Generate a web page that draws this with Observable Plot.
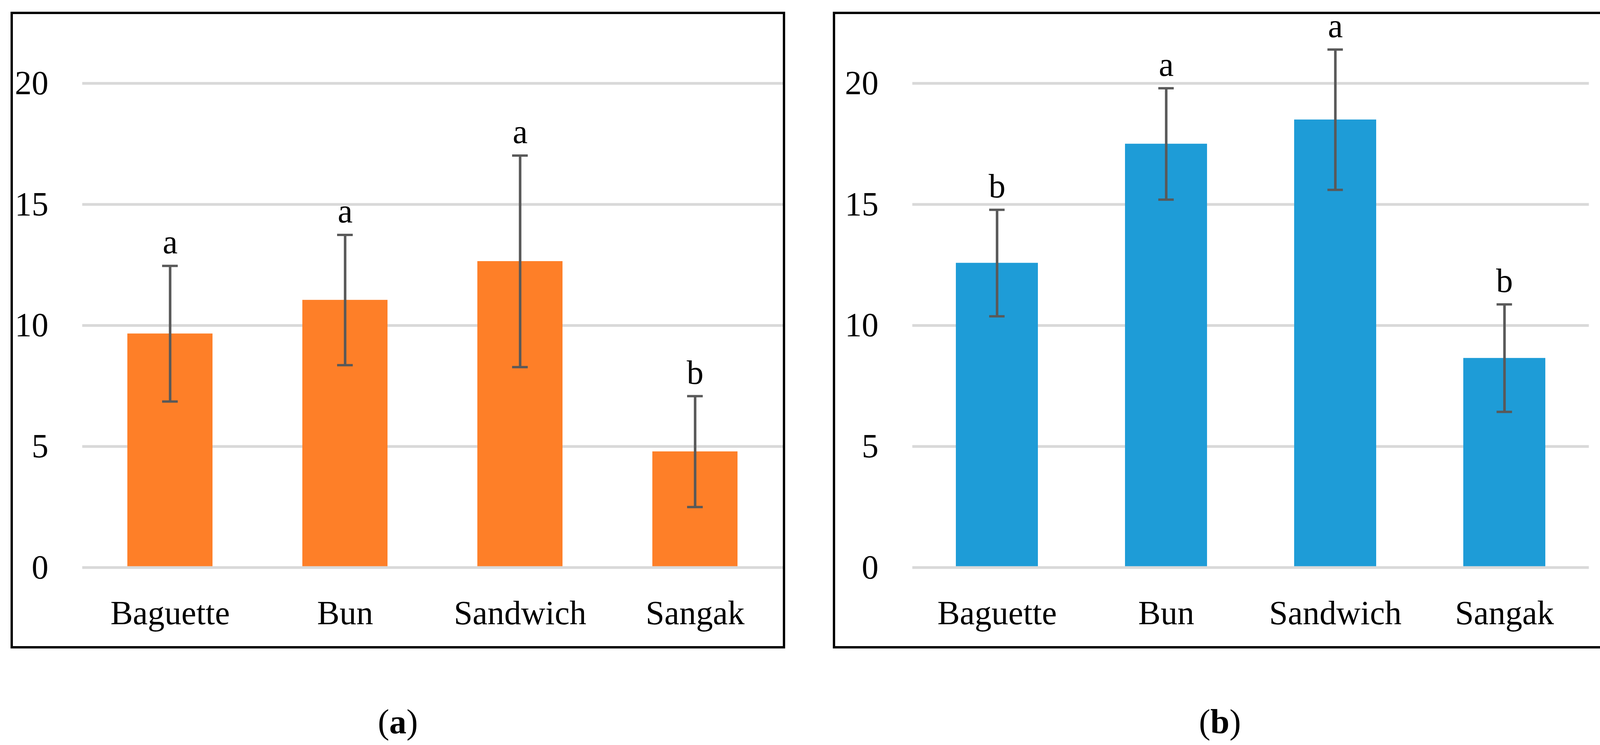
<!DOCTYPE html>
<html>
<head>
<meta charset="utf-8">
<script src="https://cdn.jsdelivr.net/npm/d3@7"></script>
<script src="https://cdn.jsdelivr.net/npm/@observablehq/plot@0.6"></script>
<style>
  html, body { margin: 0; padding: 0; background: #fff; }
  #root { position: relative; width: 4139px; height: 1906px; overflow: hidden; background: #fff; }
  .panel { position: absolute; box-sizing: border-box; border: 6px solid #000; background: #fff; }
  .panel svg { display: block; overflow: visible; }
  .caption { position: absolute; text-align: center; font-family: "Palatino Linotype", "Book Antiqua", Palatino, "Liberation Serif", serif; font-size: 88px; line-height: 88px; color: #000; }
</style>
</head>
<body>
<div id="root"></div>
<script>
// ---- data ----
const categories = ["Baguette", "Bun", "Sandwich", "Sangak"];
const meansA = [9.66, 11.05, 12.65, 4.79];
const sdA = [2.8, 2.69, 4.37, 2.29];
const lettersA = ["a", "a", "a", "b"];
const meansB = [12.58, 17.5, 18.5, 8.65];
const sdB = [2.2, 2.3, 2.9, 2.22];
const lettersB = ["b", "a", "a", "b"];
const yTicks = [0, 5, 10, 15, 20];
const gridTicks = [5, 10, 15, 20];
const captions = ["a", "b"];

const FONT = '"Palatino Linotype", "Book Antiqua", Palatino, "Liberation Serif", serif';
const PAD = 0.514;
const BORDER = 6;

function makePanel({means, sds, letters, color, width, height, marginLeft, marginRight}) {
  const data = categories.map((c, i) => ({cat: c, mean: means[i], sd: sds[i], letter: letters[i]}));
  const step = (width - marginLeft - marginRight) / categories.length;
  const bw = step * (1 - PAD);
  const capInset = (bw - 40) / 2;
  const errColor = "#595959";
  return Plot.plot({
    width, height,
    marginLeft, marginRight, marginTop: 53, marginBottom: 201.5,
    style: {fontFamily: FONT, fontSize: "86px", color: "#000", background: "transparent", overflow: "visible"},
    x: {domain: categories, paddingInner: PAD, paddingOuter: PAD / 2, label: null},
    y: {domain: [0, 22], label: null},
    marks: [
      Plot.ruleY(gridTicks, {stroke: "#d9d9d9", strokeWidth: 7}),
      Plot.barY(data, {x: "cat", y: "mean", fill: color}),
      Plot.ruleY([0], {stroke: "#d9d9d9", strokeWidth: 7}),
      Plot.ruleX(data, {x: "cat", y1: d => d.mean - d.sd, y2: d => d.mean + d.sd, stroke: errColor, strokeWidth: 6.5}),
      Plot.tickY(data, {x: "cat", y: d => d.mean + d.sd, stroke: errColor, strokeWidth: 6, insetLeft: capInset, insetRight: capInset}),
      Plot.tickY(data, {x: "cat", y: d => d.mean - d.sd, stroke: errColor, strokeWidth: 6, insetLeft: capInset, insetRight: capInset}),
      Plot.text(data, {x: "cat", y: d => d.mean + d.sd, text: "letter", lineAnchor: "bottom", dy: -32, fontSize: 86, fill: "#000", fontFamily: FONT}),
      Plot.axisY({ticks: yTicks, tickSize: 0, tickPadding: 87, fontSize: 86, fontFamily: FONT, tickFormat: d => String(d), label: null}),
      Plot.axisX({tickSize: 0, tickPadding: 84, fontSize: 86, fontFamily: FONT, label: null})
    ]
  });
}

const root = document.getElementById("root");
const panels = [
  {left: 27, top: 30, w: 1983, h: 1629, means: meansA, sds: sdA, letters: lettersA, color: "#fe7f28", marginLeft: 177.5, marginRight: 0},
  {left: 2132, top: 30, w: 1982, h: 1629, means: meansB, sds: sdB, letters: lettersB, color: "#1e9cd7", marginLeft: 197.5, marginRight: 40.5}
];

panels.forEach((p, i) => {
  const div = document.createElement("div");
  div.className = "panel";
  div.style.left = p.left + "px";
  div.style.top = p.top + "px";
  div.style.width = p.w + "px";
  div.style.height = p.h + "px";
  const chart = makePanel({
    means: p.means, sds: p.sds, letters: p.letters, color: p.color,
    width: p.w - 2 * BORDER, height: p.h - 2 * BORDER,
    marginLeft: p.marginLeft, marginRight: p.marginRight
  });
  div.appendChild(chart);
  root.appendChild(div);

  const cap = document.createElement("div");
  cap.className = "caption";
  cap.style.left = p.left + "px";
  cap.style.width = p.w + "px";
  cap.style.top = "1803px";
  cap.innerHTML = "(<b>" + captions[i] + "</b>)";
  root.appendChild(cap);
});
</script>
</body>
</html>
